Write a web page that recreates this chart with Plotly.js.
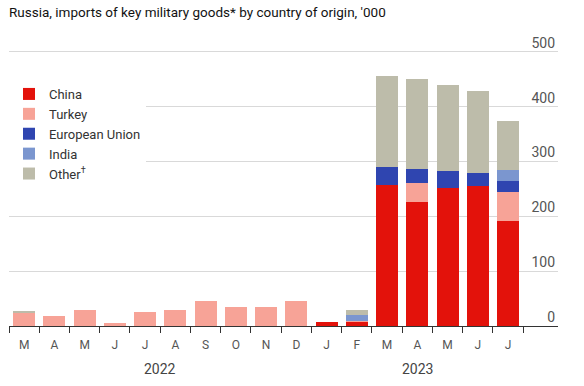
<!DOCTYPE html>
<html>
<head>
<meta charset="utf-8">
<script src="https://cdn.plot.ly/plotly-3.0.1.min.js"></script>
<style>html,body{margin:0;padding:0;background:#fff;}#chart{width:584px;height:386px;}</style>
</head>
<body>
<div id="chart"></div>
<script>
// Months Mar 2022 .. Jul 2023
const months = ["M","A","M","J","J","A","S","O","N","D","J","F","M","A","M","J","J"];
const monthIds = ["2022-03","2022-04","2022-05","2022-06","2022-07","2022-08","2022-09","2022-10","2022-11","2022-12","2023-01","2023-02","2023-03","2023-04","2023-05","2023-06","2023-07"];
const years = ["2022","2023"];
const china  = [0,0,0,0,0,0,0,0,0,0,7,8,258,227,252,255,192];
const turkey = [23,17.5,29,6,25.5,30,46,35,35,46,1,1.5,0,34,0,0,53];
const eu     = [0,0,0,0,0,0,0,0,0,0,0,0,32,26,31,25,20];
const india  = [1.5,0,0,0,0,0,0,0,0,0,0,10,0,0,0,0,20];
const other  = [2,0,0,0,0,0,0,0,0,0,0,10,166,163,157,148,89];
const yTicks = [0,100,200,300,400,500];

const series = [
  {name:"China", y:china, color:"#e3120b"},
  {name:"Turkey", y:turkey, color:"#f7a397"},
  {name:"European Union", y:eu, color:"#2f45b0"},
  {name:"India", y:india, color:"#7b96cf"},
  {name:"Other<sup>†</sup>", y:other, color:"#bdbcaa"}
];

const traces = series.map(s => ({
  type:"bar", name:s.name, x:monthIds, y:s.y,
  marker:{color:s.color, line:{width:0}},
  hoverinfo:"skip"
}));

const font = "Roboto, 'Liberation Sans', sans-serif";
const layout = {
  width:584, height:386,
  margin:{l:9, r:26, t:30, b:60},
  paper_bgcolor:"#fff", plot_bgcolor:"#fff",
  barmode:"stack", bargap:0.27,
  font:{family:font, color:"#333"},
  title:{text:"Russia, imports of key military goods* by country of origin, '000",
    x:0, xref:"paper", xanchor:"left", y:0.968, yref:"container", yanchor:"middle",
    font:{size:13.5, color:"#121212", family:font}, pad:{l:0}},
  showlegend:true,
  legend:{x:0, xanchor:"left", y:0.8345, yanchor:"top", bgcolor:"#fff",
    traceorder:"normal", font:{size:13, color:"#333"}, itemwidth:30, tracegroupgap:0},
  xaxis:{type:"category", tickmode:"array", tickvals:monthIds, ticktext:months,
    tickson:"boundaries", ticks:"outside", ticklen:6, tickcolor:"#333", tickwidth:1,
    range:[-0.5,17.65], showline:true, linecolor:"#333", linewidth:1,
    ticklabelstandoff:8,
    showgrid:false, zeroline:false, tickfont:{size:12, color:"#555"}, fixedrange:true},
  yaxis:{range:[0,540.1], tickmode:"array", tickvals:yTicks, side:"right",
    ticklabelposition:"inside", ticklabelshift:-9, ticks:"", showgrid:true,
    gridcolor:"#d9d9d9", gridwidth:1, zeroline:false, showline:false,
    tickfont:{size:14, color:"#555"}, fixedrange:true},
  annotations:[
    {text:years[0], xref:"x", x:4.5, yref:"paper", y:0, yanchor:"middle", yshift:-43, showarrow:false, font:{size:14, color:"#444"}},
    {text:years[1], xref:"x", x:13, yref:"paper", y:0, yanchor:"middle", yshift:-43, showarrow:false, font:{size:14, color:"#444"}}
  ]
};
Plotly.newPlot("chart", traces, layout, {displayModeBar:false, staticPlot:true});
</script>
</body>
</html>
